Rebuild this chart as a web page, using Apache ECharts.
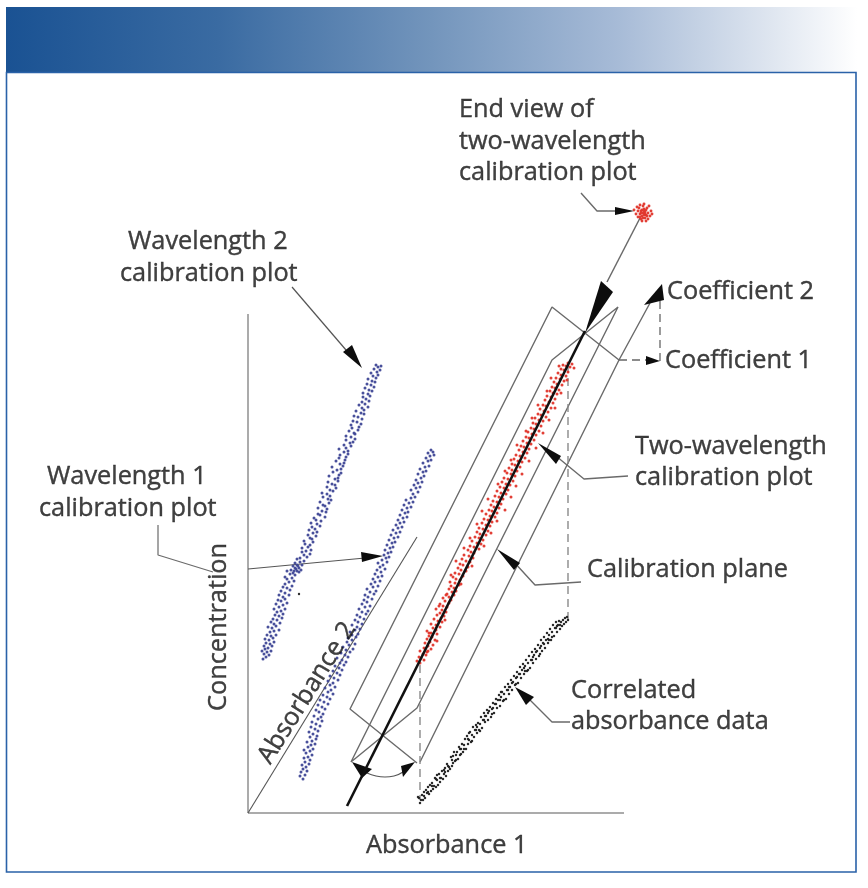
<!DOCTYPE html>
<html>
<head>
<meta charset="utf-8">
<style>html,body{margin:0;padding:0;background:#fff}#c{width:868px;height:888px}</style>
<script src="https://cdn.jsdelivr.net/npm/echarts@6/dist/echarts.min.js"></script>
</head>
<body>
<div id="c"></div>
<script>
// ---------- point clouds (x, y on an 868 x 888 plane) ----------
const wavelength2Points = [[263,659],[266,657],[269,655],[264,654],[267,652],[262,651],[271,651],[265,649],[268,648],[272,646],[264,646],[270,644],[266,643],[274,642],[269,640],[265,639],[273,638],[271,636],[267,635],[276,635],[270,632],[274,631],[279,630],[272,628],[268,627],[276,626],[274,624],[280,623],[271,622],[277,620],[273,619],[282,618],[279,616],[275,615],[283,614],[277,612],[281,611],[274,609],[285,609],[279,607],[283,605],[276,604],[287,603],[281,601],[278,600],[285,599],[283,597],[279,595],[289,595],[285,593],[281,591],[290,590],[287,588],[283,587],[292,586],[285,584],[289,582],[294,581],[287,579],[292,578],[285,577],[295,575],[290,574],[293,573],[287,571],[297,571],[291,570],[295,568],[299,568],[293,566],[297,565],[302,565],[295,563],[300,562],[304,561],[297,559],[299,572],[301,570],[296,569],[298,566],[294,571],[300,558],[307,557],[304,555],[310,554],[302,552],[306,551],[311,550],[302,548],[308,547],[310,545],[305,544],[313,542],[304,541],[312,539],[310,538],[316,536],[308,535],[313,533],[317,532],[309,530],[315,529],[312,527],[320,526],[317,524],[311,523],[321,521],[316,520],[314,518],[325,517],[320,515],[318,514],[326,512],[322,511],[327,509],[318,508],[325,506],[323,505],[329,503],[320,502],[331,500],[328,499],[323,497],[330,496],[327,494],[322,493],[333,491],[330,490],[336,488],[327,487],[335,485],[332,484],[328,482],[338,481],[335,479],[338,478],[329,476],[339,475],[341,473],[333,472],[337,470],[341,469],[332,467],[343,466],[340,464],[344,463],[336,461],[345,460],[339,458],[346,457],[340,455],[348,454],[344,452],[348,451],[339,449],[346,448],[351,446],[344,445],[350,443],[353,442],[346,440],[355,439],[351,437],[346,436],[355,434],[354,433],[349,431],[358,430],[352,428],[359,427],[351,425],[361,424],[357,422],[353,421],[362,419],[358,417],[354,416],[364,414],[361,413],[356,411],[364,410],[362,408],[368,407],[359,405],[365,404],[362,402],[369,401],[366,399],[363,397],[370,396],[368,394],[363,393],[372,391],[369,390],[365,388],[374,387],[371,385],[367,384],[375,382],[372,381],[368,379],[376,378],[373,376],[378,375],[371,373],[377,372],[380,370],[374,369],[378,367],[381,366],[376,365]];
const strayPoint = [[299,594]];
const wavelength1Points = [[303,779],[300,776],[305,775],[301,772],[307,771],[303,769],[306,767],[302,765],[309,764],[305,762],[310,760],[304,758],[308,757],[312,755],[306,753],[310,751],[304,750],[313,749],[308,747],[311,745],[315,744],[307,742],[312,741],[316,739],[310,737],[317,736],[313,734],[309,732],[318,731],[315,729],[311,727],[320,726],[316,724],[312,722],[322,721],[318,719],[321,717],[314,716],[323,714],[319,712],[316,710],[325,709],[322,707],[318,705],[328,704],[324,702],[320,700],[330,699],[327,697],[323,695],[333,694],[328,692],[331,690],[325,688],[335,687],[330,685],[333,683],[328,681],[338,680],[334,678],[330,676],[340,675],[337,673],[333,671],[342,670],[339,668],[335,666],[344,665],[340,663],[346,662],[342,660],[337,658],[348,657],[345,655],[341,653],[350,652],[346,650],[353,649],[343,647],[349,645],[355,644],[347,642],[352,640],[348,638],[356,637],[352,635],[358,634],[350,632],[355,630],[360,629],[357,627],[352,625],[362,624],[358,622],[355,620],[364,619],[360,617],[357,615],[366,614],[362,612],[368,611],[359,609],[365,607],[370,606],[362,604],[367,602],[364,600],[372,599],[368,597],[365,595],[374,594],[370,592],[376,591],[367,589],[373,587],[378,586],[371,584],[375,582],[380,581],[373,579],[378,577],[382,576],[375,574],[381,572],[377,570],[385,569],[380,567],[383,565],[378,563],[387,562],[382,560],[386,558],[389,557],[384,555],[388,553],[391,552],[385,550],[390,548],[393,547],[387,545],[392,543],[395,542],[389,540],[394,538],[398,537],[391,535],[396,533],[400,532],[393,530],[398,528],[402,527],[396,525],[400,523],[404,522],[398,520],[403,518],[407,517],[400,515],[405,513],[408,512],[402,510],[407,508],[411,507],[404,505],[409,503],[413,502],[406,500],[411,498],[415,497],[413,494],[418,492],[411,490],[416,488],[420,487],[414,485],[418,483],[422,482],[416,480],[421,478],[424,476],[418,474],[423,472],[426,471],[420,469],[425,467],[429,466],[423,463],[428,461],[431,460],[426,458],[430,456],[434,455],[428,453],[433,452],[431,450]];
const twoWavelengthPoints = [[420,663],[417,661],[424,660],[421,658],[419,657],[426,655],[423,654],[427,652],[420,651],[431,649],[424,648],[428,646],[433,645],[425,643],[430,642],[435,640],[427,639],[432,637],[429,636],[437,634],[431,633],[427,631],[436,630],[433,628],[440,627],[436,625],[431,624],[442,622],[438,621],[434,619],[441,618],[444,616],[437,615],[440,613],[446,612],[442,610],[436,609],[447,607],[443,606],[440,604],[449,603],[445,601],[451,600],[443,598],[449,597],[454,595],[447,594],[452,592],[456,591],[449,589],[454,588],[451,586],[459,585],[455,583],[450,582],[460,580],[456,579],[453,577],[463,576],[459,574],[455,573],[466,571],[461,570],[458,568],[468,567],[463,565],[460,564],[470,562],[466,561],[462,559],[473,558],[469,556],[464,555],[474,553],[471,552],[468,550],[479,549],[474,547],[470,546],[481,544],[477,543],[472,541],[483,540],[479,538],[475,537],[486,535],[480,534],[477,532],[488,531],[483,529],[479,528],[490,526],[486,525],[482,523],[492,522],[488,520],[484,519],[495,517],[490,516],[486,514],[497,513],[492,511],[489,510],[499,508],[494,507],[491,505],[501,504],[497,502],[493,501],[503,499],[499,497],[495,496],[506,494],[501,493],[497,491],[508,490],[504,488],[500,487],[510,485],[506,484],[502,482],[513,481],[508,479],[504,478],[515,476],[511,474],[507,473],[517,471],[512,470],[509,468],[520,467],[515,465],[512,464],[522,462],[518,461],[514,459],[525,458],[520,456],[516,455],[527,453],[523,452],[519,450],[529,449],[524,447],[521,446],[531,444],[527,443],[523,441],[534,440],[529,438],[526,437],[536,435],[532,434],[528,432],[539,431],[534,429],[531,428],[541,426],[536,424],[533,423],[543,421],[539,420],[535,418],[546,417],[541,415],[538,414],[548,412],[544,411],[540,409],[551,408],[546,406],[543,405],[553,403],[549,402],[545,400],[555,399],[551,397],[547,396],[557,394],[553,393],[550,391],[559,390],[555,388],[552,387],[562,385],[557,384],[554,382],[564,381],[560,379],[556,378],[566,376],[561,375],[558,373],[568,372],[564,370],[561,369],[570,367],[566,366],[563,365],[572,364],[568,363],[428,651],[437,641],[429,633],[445,620],[439,606],[446,595],[461,584],[451,575],[472,566],[456,561],[464,548],[484,546],[470,538],[491,533],[477,524],[497,521],[482,511],[505,510],[488,499],[511,497],[498,484],[516,486],[505,471],[522,474],[511,460],[529,461],[517,445],[536,448],[526,431],[543,433],[532,418],[549,420],[538,405],[555,408],[547,391],[561,393],[551,378],[567,380],[559,366],[574,368]];
const absorbancePoints = [[419,798],[420,803],[418,797],[421,800],[422,795],[423,800],[424,792],[425,798],[426,790],[427,793],[428,787],[429,794],[430,785],[431,791],[432,783],[433,789],[434,786],[435,778],[436,787],[437,780],[438,785],[439,774],[440,782],[441,778],[442,771],[443,779],[444,774],[445,768],[446,776],[447,764],[448,771],[449,767],[450,769],[451,757],[452,766],[453,763],[454,752],[455,761],[456,755],[457,752],[458,759],[459,747],[460,755],[461,749],[462,744],[463,752],[464,745],[465,739],[466,749],[467,736],[468,744],[469,740],[470,732],[471,742],[472,735],[473,727],[474,737],[475,730],[476,725],[477,733],[478,723],[479,730],[480,724],[481,717],[482,728],[483,720],[484,713],[485,722],[486,716],[487,710],[488,720],[489,711],[490,707],[491,717],[492,709],[493,703],[494,713],[495,704],[496,699],[497,708],[498,700],[499,695],[500,706],[501,697],[502,692],[503,701],[504,694],[505,687],[506,699],[507,690],[508,684],[509,694],[510,687],[511,680],[512,690],[513,682],[514,676],[515,685],[516,678],[517,672],[518,683],[519,674],[520,667],[521,678],[522,670],[523,664],[524,674],[525,666],[526,660],[527,671],[528,663],[529,656],[530,668],[531,660],[532,652],[533,663],[534,655],[535,649],[536,659],[537,651],[538,645],[539,656],[540,648],[541,640],[542,651],[543,643],[544,637],[545,648],[546,640],[547,633],[548,643],[549,635],[550,629],[551,640],[552,632],[553,625],[554,636],[555,628],[556,622],[557,632],[558,625],[559,621],[560,629],[561,622],[562,626],[563,620],[564,624],[565,618],[566,622],[567,617],[568,620],[424,796],[428,792],[432,786],[436,779],[440,778],[444,770],[448,766],[452,760],[456,760],[460,749],[464,749],[468,739],[472,741],[476,730],[480,731],[484,720],[488,713],[492,714],[496,704],[500,700],[504,700],[508,690],[512,683],[516,684],[520,674],[524,668],[528,670],[532,660],[536,652],[540,654],[544,644],[548,639],[552,637],[556,628],[560,625],[437,775],[445,772],[453,756],[461,754],[469,733],[477,727],[485,716],[493,708],[501,692],[509,687],[517,677],[525,671],[533,657],[541,646],[549,640],[557,626]];
const endViewPoints = [[643,213],[641,211],[645,212],[644,209],[640,214],[646,215],[642,216],[648,213],[643,206],[638,211],[639,208],[647,208],[650,216],[645,218],[641,219],[636,214],[651,211],[644,204],[637,207],[648,219],[642,221],[646,221],[634,210],[649,206],[640,205],[644,215],[642,210],[646,210],[640,217],[652,214],[638,217],[644,211],[647,216],[641,213],[645,214],[643,218]];

// ---------- thin lines ----------
const axisConcentration = [[248,314],[248,813]];
const axisAbsorbance1 = [[248,813],[624,813]];
const axisAbsorbance2 = [[248,813],[417,537]];
const outerPlane = [[417,763],[350,709],[552,307],[619,360]];
const outerPlaneRightAndCoefficient = [[420,762],[619,360],[650,303]];
const innerPlane = [[351,762],[537,390],[552,360],[618,307],[417,708],[351,762]];
const endViewLine = [[607,282],[640,218]];
const leaderEndView = [[581,193],[597,211],[620,211]];
const leaderWavelength2 = [[292,287],[352,357]];
const leaderWavelength1a = [[158,525],[158,555],[213,572]];
const leaderWavelength1b = [[248,569],[365,558]];
const leaderTwoWavelength = [[556,456],[584,479],[628,476]];
const leaderPlane = [[513,561],[535,585],[581,582]];
const leaderCorrelated = [[528,698],[552,722],[570,722]];
const angleArc = [[367,773],[376,776],[385,777],[394,776],[403,772]];

// ---------- dashed lines ----------
const dashCoefficient1 = [[619,360],[650,360]];
const dashCoefficientUp = [[660,361],[660,298]];
const dashTopDrop = [[568,365],[568,620]];
const dashBottomDrop = [[420,665],[420,800]];

// ---------- heavy regression line ----------
const calibrationLine = [[347,806],[585,331]];

// ---------- arrowheads and wedge: three corners each ----------
const arrowheads = [
  [601,281,613,292,585,333],
  [662,284,644,305,664,300],
  [660,361,646,356,646,365],
  [634,211,615,207,615,215],
  [362,368,343,352,352,345],
  [383,556,361,552,362,562],
  [538,443,556,464,561,456],
  [497,549,514,570,520,563],
  [515,687,526,705,534,697],
  [352,762,362,778,372,769],
  [415,762,401,766,403,777]
];

// ---------- text ----------
const labels = [
  ['End view of',459,110],['two-wavelength',459,142],['calibration plot',459,173],
  ['Wavelength 2',128,242],['calibration plot',120,274],
  ['Wavelength 1',47,477],['calibration plot',39,509],
  ['Coefficient 2',667,292],['Coefficient 1',665,361],
  ['Two-wavelength',635,447],['calibration plot',635,478],
  ['Calibration plane',587,570],
  ['Correlated',571,691],['absorbance data',571,722],
  ['Absorbance 1',366,846]
];
const rotatedLabels = [
  ['Concentration',219,627,90],
  ['Absorbance 2',307,693,58]
];

// ---------- building the chart ----------
const GREY = '#6a6a6a', AXIS = '#8f8f8f', INK = '#111111', FONT = '"Open Sans"', FS = 25.3;
function line(data, color, width, dash, smooth) {
  return {type:'line', data, showSymbol:false, silent:true, smooth:!!smooth, z:3,
    lineStyle:{color, width, type:dash?[8,5]:'solid'}};
}
function dots(data, color, size) {
  return {type:'scatter', data, symbol:'circle', symbolSize:size, silent:true, z:4,
    itemStyle:{color, opacity:0.95}};
}
const textStyle = {show:true,position:[0,0],verticalAlign:'middle',formatter:'{b}',
  fontFamily:FONT,fontSize:FS,color:INK,textBorderColor:INK,textBorderWidth:0.4};
const chart = echarts.init(document.getElementById('c'), null, {renderer:'canvas'});
chart.setOption({
  animation:false,
  backgroundColor:'#fff',
  tooltip:{show:false},
  grid:{left:0,right:0,top:0,bottom:0},
  xAxis:{type:'value',min:0,max:868,show:false},
  yAxis:{type:'value',min:0,max:888,inverse:true,show:false},
  graphic:[
    {type:'rect',z:0,shape:{x:6,y:7,width:851,height:65},style:{fill:new echarts.graphic.LinearGradient(0,0,1,0,[
      {offset:0,color:'#1a5293'},{offset:0.25,color:'#3a6ba2'},{offset:0.5,color:'#7395bc'},
      {offset:0.72,color:'#a7bbd7'},{offset:0.9,color:'#dfe6f0'},{offset:1,color:'#ffffff'}])}},
    {type:'rect',z:1,shape:{x:6.5,y:72.5,width:849.5,height:799.5},style:{fill:'none',stroke:'#2a62a8',lineWidth:1.6}}
  ],
  series:[
    line(axisConcentration,AXIS,1.5),
    line(axisAbsorbance1,AXIS,1.5),
    line(axisAbsorbance2,'#555',1.1),
    line(outerPlane,GREY,1.4),
    line(outerPlaneRightAndCoefficient,GREY,1.4),
    line(innerPlane,GREY,1.4),
    line(endViewLine,GREY,1.5),
    line(leaderEndView,GREY,1.4),
    line(leaderWavelength2,'#555',1.2),
    line(leaderWavelength1a,GREY,1.2),
    line(leaderWavelength1b,'#555',1.2),
    line(leaderTwoWavelength,GREY,1.4),
    line(leaderPlane,GREY,1.4),
    line(leaderCorrelated,GREY,1.4),
    line(angleArc,'#555',1.2,false,true),
    line(dashCoefficient1,'#666',1.3,true),
    line(dashCoefficientUp,'#666',1.3,true),
    line(dashTopDrop,'#8a8a8a',1.4,true),
    line(dashBottomDrop,'#8a8a8a',1.4,true),
    dots(wavelength2Points,'#3f4796',3),
    dots(strayPoint,'#222',2.4),
    dots(wavelength1Points,'#3f4796',3),
    dots(absorbancePoints,'#222',2.5),
    dots(twoWavelengthPoints,'#e0352b',3),
    dots(endViewPoints,'#e0352b',2.9),
    Object.assign(line(calibrationLine,'#111',2.6),{z:5}),
    {type:'custom', data:arrowheads, silent:true, z:5,
      encode:{x:[0,2,4],y:[1,3,5]},
      renderItem:function(p,api){
        const pts=[0,2,4].map(i=>api.coord([api.value(i),api.value(i+1)]));
        return {type:'polygon',shape:{points:pts},style:{fill:'#0d0d0d'}};
      }},
    {type:'scatter', symbolSize:0, silent:true, z:6,
      data:labels.map(l=>({value:[l[1],l[2]],name:l[0]})),
      label:Object.assign({align:'left'},textStyle)},
    {type:'scatter', symbolSize:0, silent:true, z:6,
      data:rotatedLabels.map(l=>({value:[l[1],l[2]],name:l[0],
        label:{rotate:l[3]}})),
      label:Object.assign({align:'center'},textStyle)}
  ]
});
</script>
</body>
</html>
